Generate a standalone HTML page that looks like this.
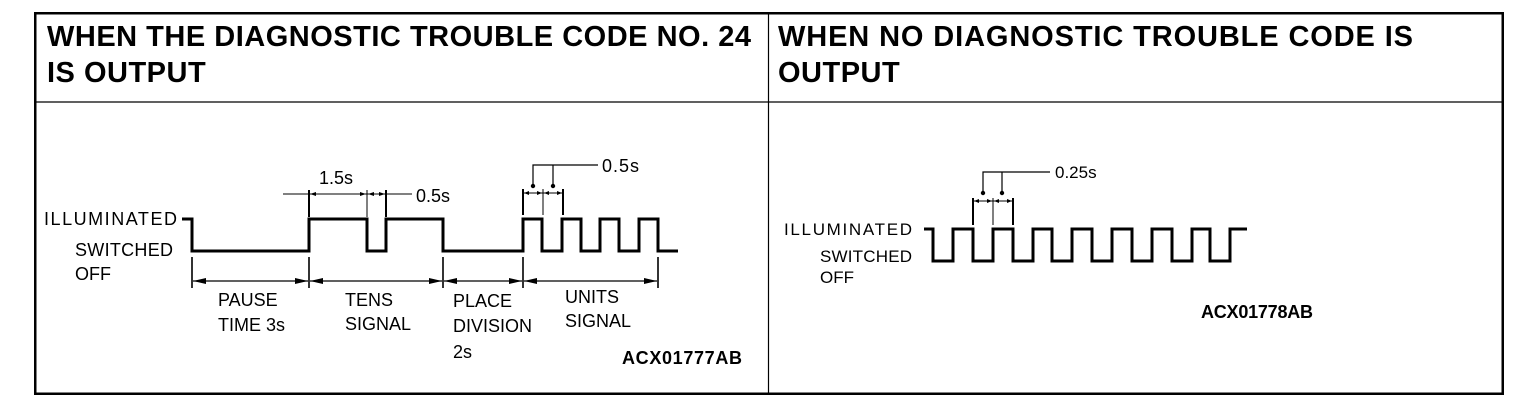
<!DOCTYPE html>
<html>
<head>
<meta charset="utf-8">
<style>
  html,body{margin:0;padding:0;background:#fff;}
  svg{display:block;}
  .h{font-family:"Liberation Sans",Arial,sans-serif;font-weight:bold;font-size:29px;fill:#000;}
  .t{font-family:"Liberation Sans",Arial,sans-serif;font-size:18px;fill:#000;}
  .t2{font-family:"Liberation Sans",Arial,sans-serif;font-size:17px;fill:#000;}
  .b{font-family:"Liberation Sans",Arial,sans-serif;font-weight:bold;font-size:18px;fill:#000;}
</style>
</head>
<body>
<svg width="1536" height="418" viewBox="0 0 1536 418" xmlns="http://www.w3.org/2000/svg">
  <!-- frame -->
  <rect x="35.25" y="13.25" width="1467.5" height="380.5" fill="none" stroke="#000" stroke-width="2.5"/>
  <line x1="35" y1="102" x2="1503" y2="102" stroke="#000" stroke-width="1.2"/>
  <line x1="768.5" y1="13" x2="768.5" y2="394" stroke="#000" stroke-width="1.2"/>

  <!-- headers -->
  <text class="h" x="47" y="46" textLength="704" lengthAdjust="spacing">WHEN THE DIAGNOSTIC TROUBLE CODE NO. 24</text>
  <text class="h" x="47" y="82" letter-spacing="0.5">IS OUTPUT</text>
  <text class="h" x="778" y="46" textLength="635" lengthAdjust="spacing">WHEN NO DIAGNOSTIC TROUBLE CODE IS</text>
  <text class="h" x="778" y="82" letter-spacing="0.5">OUTPUT</text>

  <!-- ============ LEFT DIAGRAM ============ -->
  <text class="t" x="44" y="225" textLength="133" lengthAdjust="spacing">ILLUMINATED</text>
  <text class="t" x="75" y="256" textLength="98" lengthAdjust="spacing">SWITCHED</text>
  <text class="t" x="75" y="280">OFF</text>

  <path d="M182,219 H192 V251 H309 V219 H367 V251 H386 V219 H443 V251 H523 V219 H542 V251 H562 V219 H581 V251 H600 V219 H619 V251 H639 V219 H658 V251 H678"
        fill="none" stroke="#000" stroke-width="3" stroke-linejoin="miter"/>

  <!-- bottom dimension ticks -->
  <g stroke="#000" stroke-width="1.6">
    <line x1="192" y1="257" x2="192" y2="288"/>
    <line x1="309" y1="257" x2="309" y2="288"/>
    <line x1="443" y1="257" x2="443" y2="288"/>
    <line x1="523" y1="257" x2="523" y2="288"/>
    <line x1="658" y1="257" x2="658" y2="288"/>
  </g>
  <g stroke="#000" stroke-width="1.3">
    <line x1="193" y1="281" x2="308" y2="281"/>
    <line x1="310" y1="281" x2="442" y2="281"/>
    <line x1="444" y1="281" x2="522" y2="281"/>
    <line x1="524" y1="281" x2="657" y2="281"/>
  </g>
  <g fill="#000">
    <polygon points="193,281 206,278 206,284"/>
    <polygon points="308,281 295,278 295,284"/>
    <polygon points="310,281 323,278 323,284"/>
    <polygon points="442,281 429,278 429,284"/>
    <polygon points="444,281 457,278 457,284"/>
    <polygon points="522,281 509,278 509,284"/>
    <polygon points="524,281 537,278 537,284"/>
    <polygon points="657,281 644,278 644,284"/>
  </g>

  <!-- bottom labels -->
  <text class="t" x="218" y="306">PAUSE</text>
  <text class="t" x="218" y="331">TIME 3s</text>
  <text class="t" x="345" y="306">TENS</text>
  <text class="t" x="345" y="330">SIGNAL</text>
  <text class="t" x="453" y="307">PLACE</text>
  <text class="t" x="453" y="332">DIVISION</text>
  <text class="t" x="453" y="358">2s</text>
  <text class="t" x="565" y="303">UNITS</text>
  <text class="t" x="565" y="327">SIGNAL</text>
  <text class="b" x="622" y="364" textLength="120" lengthAdjust="spacing">ACX01777AB</text>

  <!-- upper dims tens -->
  <g stroke="#000">
    <line x1="309" y1="190" x2="309" y2="217" stroke-width="2"/>
    <line x1="367" y1="190" x2="367" y2="217" stroke-width="1"/>
    <line x1="386" y1="190" x2="386" y2="217" stroke-width="2"/>
    <line x1="283" y1="194" x2="309" y2="194" stroke-width="1.1"/>
    <line x1="309" y1="194" x2="367" y2="194" stroke-width="1.1"/>
    <line x1="367" y1="194" x2="386" y2="194" stroke-width="1.1"/>
    <line x1="386" y1="194" x2="412" y2="194" stroke-width="1.1"/>
  </g>
  <g fill="#000">
    <polygon points="310,194 316,192 316,196"/>
    <polygon points="366,194 360,192 360,196"/>
    <polygon points="368,194 374,192 374,196"/>
    <polygon points="385,194 379,192 379,196"/>
  </g>
  <text class="t" x="319" y="184">1.5s</text>
  <text class="t" x="416" y="202">0.5s</text>

  <!-- upper dims units -->
  <g stroke="#000">
    <line x1="523" y1="189" x2="523" y2="215" stroke-width="2"/>
    <line x1="543" y1="189" x2="543" y2="215" stroke-width="1"/>
    <line x1="563" y1="189" x2="563" y2="215" stroke-width="2"/>
    <line x1="523" y1="193" x2="563" y2="193" stroke-width="1.1"/>
    <path d="M598,165 H533 V185 M553,165 V185" fill="none" stroke-width="1.2"/>
  </g>
  <g fill="#000">
    <circle cx="533" cy="186" r="2.2"/>
    <circle cx="553" cy="186" r="2.2"/>
    <polygon points="524,193 529,191 529,195"/>
    <polygon points="542,193 537,191 537,195"/>
    <polygon points="544,193 549,191 549,195"/>
    <polygon points="562,193 557,191 557,195"/>
  </g>
  <text class="t" x="602" y="172" textLength="37" lengthAdjust="spacing">0.5s</text>

  <!-- ============ RIGHT DIAGRAM ============ -->
  <text class="t2" x="784" y="235" textLength="128" lengthAdjust="spacing">ILLUMINATED</text>
  <text class="t2" x="820" y="262" textLength="92" lengthAdjust="spacing">SWITCHED</text>
  <text class="t2" x="820" y="283">OFF</text>

  <path d="M924,229 H933 V261 H953 V229 H973 V261 H993 V229 H1013 V261 H1033 V229 H1052 V261 H1072 V229 H1092 V261 H1112 V229 H1132 V261 H1152 V229 H1172 V261 H1192 V229 H1210 V261 H1230 V229 H1247"
        fill="none" stroke="#000" stroke-width="3"/>

  <g stroke="#000">
    <line x1="973" y1="198" x2="973" y2="225" stroke-width="2"/>
    <line x1="993" y1="198" x2="993" y2="225" stroke-width="1"/>
    <line x1="1013" y1="198" x2="1013" y2="225" stroke-width="2"/>
    <line x1="973" y1="201" x2="1013" y2="201" stroke-width="1.1"/>
    <path d="M1050,172 H983 V192 M1002,172 V192" fill="none" stroke-width="1.2"/>
  </g>
  <g fill="#000">
    <circle cx="983" cy="193" r="2.2"/>
    <circle cx="1002" cy="193" r="2.2"/>
    <polygon points="974,201 979,199 979,203"/>
    <polygon points="992,201 987,199 987,203"/>
    <polygon points="994,201 999,199 999,203"/>
    <polygon points="1012,201 1007,199 1007,203"/>
  </g>
  <text class="t2" x="1055" y="178">0.25s</text>
  <text class="b" x="1201" y="318" textLength="112" lengthAdjust="spacing">ACX01778AB</text>
</svg>
</body>
</html>
